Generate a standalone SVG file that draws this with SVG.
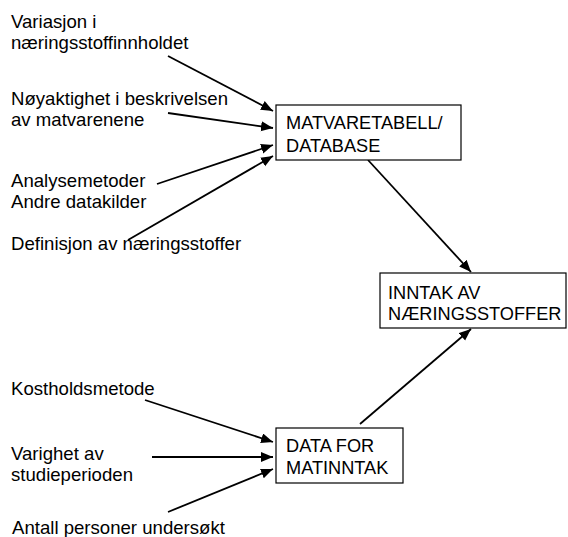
<svg xmlns="http://www.w3.org/2000/svg" width="568" height="537" viewBox="0 0 568 537">
<style>
text{font-family:"Liberation Sans",Arial,sans-serif;font-size:18.6px;fill:#000}
text.n{font-size:18.2px}
.box{fill:#fff;stroke:#000;stroke-width:1.2}
.c{stroke:#000;stroke-width:1.8;fill:none;marker-end:url(#ah)}
</style>
<defs>
<marker id="ah" markerUnits="userSpaceOnUse" markerWidth="13" markerHeight="11" refX="12" refY="5" orient="auto">
<path d="M0,0 L12,5 L0,10 Z" fill="#000"/>
</marker>
</defs>
<rect width="568" height="537" fill="#fff"/>
<g id="connectors">
<line class="c" x1="168" y1="56" x2="273" y2="111"/>
<line class="c" x1="168" y1="113" x2="273" y2="128"/>
<line class="c" x1="157" y1="184" x2="273" y2="145"/>
<line class="c" x1="128" y1="240" x2="273" y2="156"/>
<line class="c" x1="368" y1="160" x2="471" y2="272"/>
<line class="c" x1="360" y1="424" x2="471" y2="329"/>
<line class="c" x1="145" y1="400" x2="273" y2="442"/>
<line class="c" x1="152" y1="457" x2="273" y2="457"/>
<line class="c" x1="168" y1="512" x2="273" y2="469"/>
</g>
<g id="label-variasjon"><text x="11" y="28">Variasjon i</text><text x="11" y="49">næringsstoffinnholdet</text></g>
<g id="label-noyaktighet"><text x="11" y="105">Nøyaktighet i beskrivelsen</text><text x="11" y="126">av matvarenene</text></g>
<g id="label-analysemetoder"><text x="11" y="187">Analysemetoder</text><text x="11" y="208">Andre datakilder</text></g>
<g id="label-definisjon"><text x="11" y="250">Definisjon av næringsstoffer</text></g>
<g id="label-kostholdsmetode"><text x="11" y="395">Kostholdsmetode</text></g>
<g id="label-varighet"><text x="11" y="460">Varighet av</text><text x="11" y="481">studieperioden</text></g>
<g id="label-antall"><text x="12" y="534">Antall personer undersøkt</text></g>
<g id="node-matvaretabell">
<rect class="box" x="276" y="105" width="185" height="55"/>
<text class="n" x="286" y="129">MATVARETABELL/</text>
<text class="n" x="286" y="152">DATABASE</text>
</g>
<g id="node-inntak">
<rect class="box" x="380" y="273" width="186" height="55"/>
<text class="n" x="388" y="299">INNTAK AV</text>
<text class="n" x="388" y="320">NÆRINGSSTOFFER</text>
</g>
<g id="node-data">
<rect class="box" x="276" y="428" width="127" height="55"/>
<text class="n" x="286" y="452">DATA FOR</text>
<text class="n" x="286" y="474">MATINNTAK</text>
</g>
</svg>
